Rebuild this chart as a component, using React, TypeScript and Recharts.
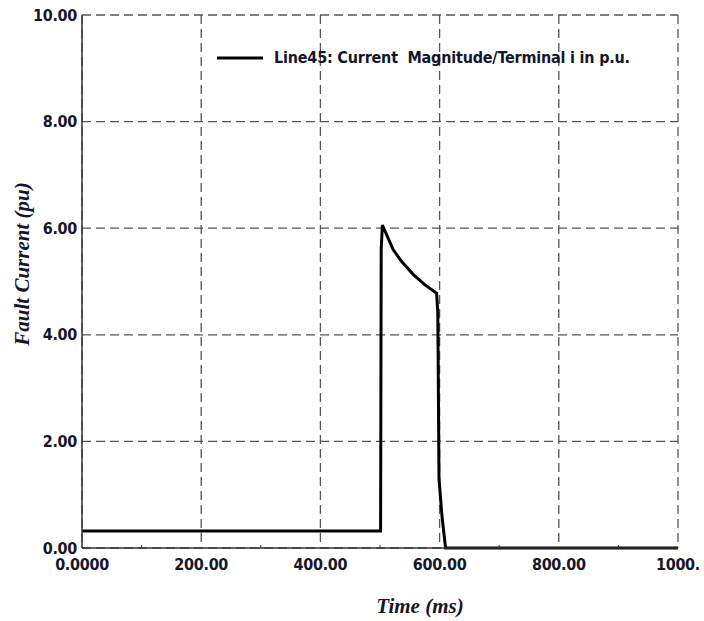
import { LineChart, Line, XAxis, YAxis, CartesianGrid, Legend, Label } from "recharts";

// time in ms, current magnitude in p.u.
const timeMs = [0, 500, 501, 502, 504, 511, 522, 536, 556, 575, 595, 597, 599, 604, 610, 1000];
const currentPu = [0.32, 0.32, 0.32, 5.6, 6.06, 5.88, 5.6, 5.38, 5.13, 4.94, 4.78, 4.4, 1.3, 0.6, 0.0, 0.0];

const xTicks = [0, 200, 400, 600, 800, 1000];
const xTickLabels = ["0.0000", "200.00", "400.00", "600.00", "800.00", "1000."];
const xMinorTicks = [100, 300, 500, 700, 900];
const yTicks = [0, 2, 4, 6, 8, 10];
const yTickLabels = ["0.00", "2.00", "4.00", "6.00", "8.00", "10.00"];
const yMinorTicks = [1, 3, 5, 7, 9];

const seriesName = "Line45: Current  Magnitude/Terminal i in p.u.";

const data = timeMs.map((t, i) => ({ t, i: currentPu[i] }));

const narrow = "'Liberation Sans Narrow', 'Arial Narrow', 'DejaVu Sans Condensed', sans-serif";
const serif = "'Liberation Serif', 'Times New Roman', serif";
const ink = "#16162a";
const tickStyle = { fontSize: 16, fontWeight: 700, fill: ink, fontFamily: narrow, letterSpacing: -0.3 };

function LegendBox() {
  return (
    <div
      style={{
        display: "flex",
        alignItems: "center",
        fontFamily: narrow,
        fontWeight: 700,
        fontSize: 16,
        letterSpacing: -0.2,
        color: ink,
        whiteSpace: "pre",
      }}
    >
      <svg width={46} height={6} style={{ marginRight: 11 }}>
        <line x1={0} y1={3} x2={46} y2={3} stroke="#000" strokeWidth={3} />
      </svg>
      <span>{seriesName}</span>
    </div>
  );
}

export default function App() {
  return (
    <div style={{ position: "absolute", left: 0, top: 0, background: "#fff" }}>
      <LineChart width={704} height={621} data={data} margin={{ top: 15, right: 26, bottom: 0, left: 0 }}>
        <CartesianGrid stroke="#555" strokeWidth={1.3} strokeDasharray="9 5" />
        <XAxis
          dataKey="t"
          type="number"
          domain={[0, 1000]}
          ticks={xTicks}
          tickFormatter={(v: number) => xTickLabels[xTicks.indexOf(v)]}
          height={73}
          tickLine={false}
          tickSize={0}
          tickMargin={11}
          axisLine={{ stroke: "#333", strokeWidth: 1.5 }}
          tick={tickStyle}
          interval={0}
        >
          <Label
            content={() => (
              <text x={420} y={613} textAnchor="middle" fontFamily={serif} fontStyle="italic" fontWeight={700} fontSize={21} fill={ink}>
                Time (ms)
              </text>
            )}
          />
        </XAxis>
        <XAxis
          xAxisId="minor"
          dataKey="t"
          type="number"
          domain={[0, 1000]}
          ticks={xMinorTicks}
          mirror
          tickSize={3}
          tickFormatter={() => ""}
          axisLine={false}
          tickLine={{ stroke: "#333" }}
          interval={0}
        />
        <YAxis
          type="number"
          domain={[0, 10]}
          ticks={yTicks}
          tickFormatter={(v: number) => yTickLabels[yTicks.indexOf(v)]}
          width={82}
          tickLine={false}
          tickSize={0}
          tickMargin={5}
          axisLine={{ stroke: "#333", strokeWidth: 1.5 }}
          tick={tickStyle}
          interval={0}
        >
          <Label
            content={() => (
              <text
                x={22}
                y={264}
                transform="rotate(-90 22 264)"
                textAnchor="middle"
                dominantBaseline="central"
                fontFamily={serif}
                fontStyle="italic"
                fontWeight={700}
                fontSize={21}
                fill={ink}
              >
                Fault Current (pu)
              </text>
            )}
          />
        </YAxis>
        <YAxis
          yAxisId="minor"
          type="number"
          domain={[0, 10]}
          ticks={yMinorTicks}
          mirror
          tickSize={5}
          tickFormatter={() => ""}
          axisLine={false}
          tickLine={{ stroke: "#333" }}
          interval={0}
        />
        <Legend
          layout="vertical"
          align="center"
          verticalAlign="middle"
          wrapperStyle={{ top: 48, left: 217, width: "auto" }}
          content={() => <LegendBox />}
        />
        <Line
          dataKey="i"
          name={seriesName}
          type="linear"
          stroke="#000"
          strokeWidth={3}
          dot={false}
          activeDot={false}
          isAnimationActive={false}
        />
      </LineChart>
    </div>
  );
}
